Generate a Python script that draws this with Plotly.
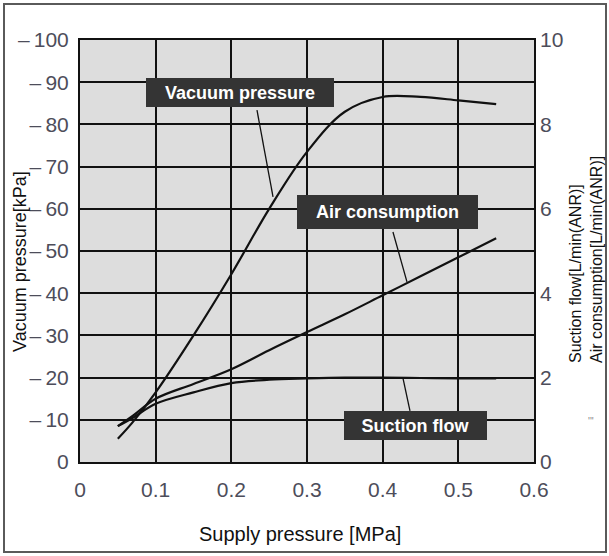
import plotly.graph_objects as go

# ---- data ----
supply_pressure = [0.05, 0.07, 0.10, 0.15, 0.20, 0.25, 0.30, 0.35, 0.40, 0.45, 0.50, 0.55]
vacuum_pressure = [-5.5, -9.5, -16.5, -30.0, -44.5, -60.0, -73.5, -83.0, -86.5, -86.5, -85.7, -84.8]
air_consumption = [0.85, 1.10, 1.50, 1.85, 2.20, 2.65, 3.08, 3.50, 3.95, 4.40, 4.85, 5.30]
suction_flow = [0.85, 1.05, 1.38, 1.65, 1.87, 1.95, 1.98, 2.00, 2.00, 1.99, 1.98, 1.98]

x_ticks = [0, 0.1, 0.2, 0.3, 0.4, 0.5, 0.6]
x_tick_labels = ["0", "0.1", "0.2", "0.3", "0.4", "0.5", "0.6"]
vac_ticks = [0, -10, -20, -30, -40, -50, -60, -70, -80, -90, -100]
vac_tick_labels = ["0", "–\u200910", "–\u200920", "–\u200930", "–\u200940", "–\u200950",
                   "–\u200960", "–\u200970", "–\u200980", "–\u200990", "–\u2009100"]
flow_ticks = [0, 2, 4, 6, 8, 10]
flow_tick_labels = ["0", "2", "4", "6", "8", "10"]

TICK_FONT = dict(family="Liberation Sans, Arial, sans-serif", size=21, color="#4d4d5a")
TEXT_FONT = "Liberation Sans, Arial, sans-serif"

fig = go.Figure()
line_style = dict(color="#111111", width=2.2, shape="spline", smoothing=1.0)
fig.add_trace(go.Scatter(x=supply_pressure, y=vacuum_pressure, mode="lines",
                         line=line_style, name="Vacuum pressure", yaxis="y"))
fig.add_trace(go.Scatter(x=supply_pressure, y=air_consumption, mode="lines",
                         line=line_style, name="Air consumption", yaxis="y2"))
fig.add_trace(go.Scatter(x=supply_pressure, y=suction_flow, mode="lines",
                         line=line_style, name="Suction flow", yaxis="y2"))

fig.update_layout(
    width=609, height=556,
    margin=dict(l=80, r=75, t=40, b=94),
    paper_bgcolor="white",
    plot_bgcolor="#dddddd",
    showlegend=False,
    xaxis=dict(range=[0, 0.6], tickvals=x_ticks, ticktext=x_tick_labels,
               showgrid=True, gridcolor="#111111", gridwidth=2,
               showline=True, linecolor="#111111", linewidth=2, mirror=True,
               ticks="", tickfont=TICK_FONT, ticklabelstandoff=8, zeroline=False,
               automargin=False),
    yaxis=dict(range=[0, -100], tickvals=vac_ticks, ticktext=vac_tick_labels,
               showgrid=True, gridcolor="#111111", gridwidth=2,
               showline=True, linecolor="#111111", linewidth=2, mirror=True,
               ticks="", tickfont=TICK_FONT, ticklabelstandoff=5, zeroline=False,
               automargin=False),
    yaxis2=dict(range=[0, 10], tickvals=flow_ticks, ticktext=flow_tick_labels,
                overlaying="y", side="right", showgrid=False, zeroline=False,
                ticks="", tickfont=TICK_FONT, ticklabelstandoff=5, automargin=False),
)

# axis titles as annotations (paper coords of plot area 80..534 / 40..462)
def px(x):
    return (x - 80) / 454

def py(y):
    return (462 - y) / 422

fig.add_annotation(text="Supply pressure [MPa]", xref="paper", yref="paper",
                   x=px(300), y=py(534), xanchor="center", yanchor="middle", showarrow=False,
                   font=dict(family=TEXT_FONT, size=20, color="#111111"))
fig.add_annotation(text="Vacuum pressure[kPa]", xref="paper", yref="paper",
                   x=px(20), y=py(262), xanchor="center", yanchor="middle",
                   showarrow=False, textangle=-90,
                   font=dict(family=TEXT_FONT, size=18, color="#111111"))
fig.add_annotation(text="Suction flow[L/min(ANR)]<br>Air consumption[L/min(ANR)]",
                   xref="paper", yref="paper", align="left",
                   x=px(586), y=py(260), xanchor="center", yanchor="middle",
                   showarrow=False, textangle=-90,
                   font=dict(family=TEXT_FONT, size=16, color="#111111"))

# labelled boxes
labels = [
    ("Vacuum pressure", 0.2114, -87.6, 188, 29),
    ("Air consumption", 0.4064, -59.2, 181, 34),
    ("Suction flow", 0.4434, -8.65, 143, 29),
]
for txt, lx, ly, w, h in labels:
    fig.add_annotation(text="<b>%s</b>" % txt, x=lx, y=ly, xref="x", yref="y",
                       xanchor="center", yanchor="middle",
                       showarrow=False, width=w, height=h, borderpad=0, borderwidth=0,
                       bgcolor="#343434",
                       font=dict(family=TEXT_FONT, size=18, color="white"))

# leader lines from boxes to curves
leaders = [
    (0.2339, -83.4, 0.2551, -62.8, "y"),
    (0.4136, 5.45, 0.4321, 4.27, "y2"),
    (0.4269, 1.98, 0.4361, 1.21, "y2"),
]
for x0, y0, x1, y1, yr in leaders:
    fig.add_shape(type="line", xref="x", yref=yr, x0=x0, y0=y0, x1=x1, y1=y1,
                  line=dict(color="#111111", width=1.3))

# outer frame
fig.add_shape(type="rect", xref="paper", yref="paper",
              x0=px(4), x1=px(606), y0=py(552), y1=py(4),
              line=dict(color="#5a5a5a", width=2), layer="below")

# small stray mark at right
fig.add_annotation(text="'''", xref="paper", yref="paper",
                   x=px(591), y=py(421), xanchor="center", yanchor="middle", showarrow=False,
                   font=dict(family=TEXT_FONT, size=10, color="#888888"))

fig.write_html("out.html", config={"displayModeBar": False},
               post_script="document.body.style.margin='0';")
